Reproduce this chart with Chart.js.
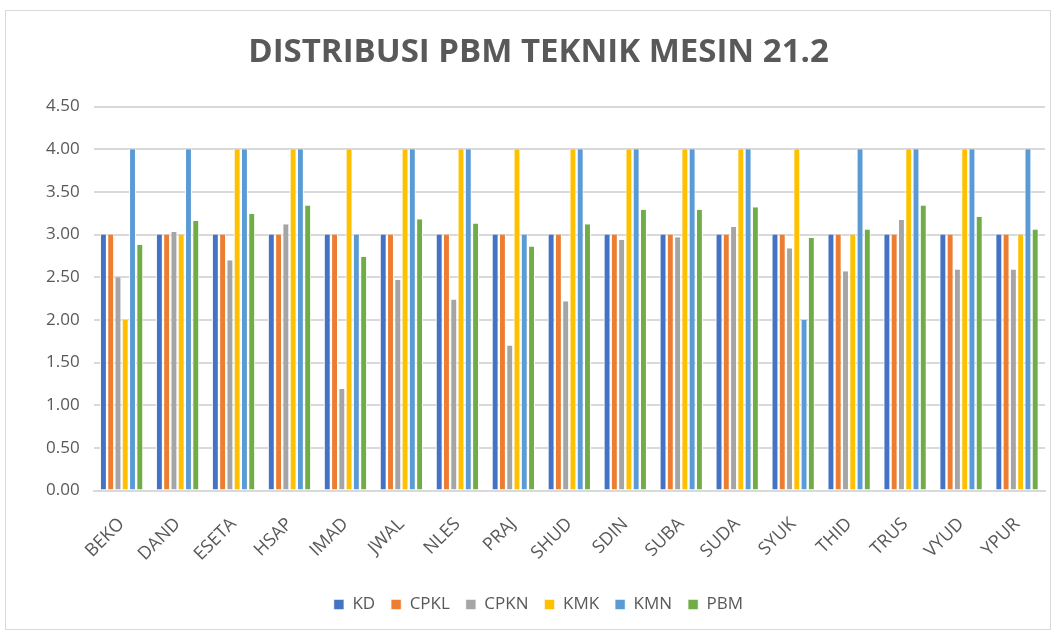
<!DOCTYPE html>
<html><head><meta charset="utf-8">
<script src="https://cdn.jsdelivr.net/npm/chart.js@4/dist/chart.umd.min.js"></script>
<style>
html,body{margin:0;padding:0;background:#fff;}
#wrap{position:absolute;left:5px;top:10px;width:1046px;height:620px;border:1px solid #d9d9d9;box-sizing:border-box;}
canvas{display:block;}
</style></head><body>
<div id="wrap"><canvas id="c" width="1044" height="618"></canvas></div>
<script>
const categories = ["BEKO","DAND","ESETA","HSAP","IMAD","JWAL","NLES","PRAJ","SHUD","SDIN","SUBA","SUDA","SYUK","THID","TRUS","VYUD","YPUR"];
const KD   = [3,3,3,3,3,3,3,3,3,3,3,3,3,3,3,3,3];
const CPKL = [3,3,3,3,3,3,3,3,3,3,3,3,3,3,3,3,3];
const CPKN = [2.5,3.03,2.7,3.12,1.19,2.47,2.24,1.7,2.22,2.94,2.97,3.09,2.84,2.57,3.17,2.59,2.59];
const KMK  = [2,3,4,4,4,4,4,4,4,4,4,4,4,3,4,4,3];
const KMN  = [4,4,4,4,3,4,4,3,4,4,4,4,2,4,4,4,4];
const PBM  = [2.88,3.16,3.24,3.34,2.74,3.18,3.13,2.86,3.12,3.29,3.29,3.32,2.96,3.06,3.34,3.21,3.06];
const seriesNames = ["KD","CPKL","CPKN","KMK","KMN","PBM"];
const colors = ["#4472c4","#ed7d31","#a5a5a5","#ffc000","#5b9bd5","#70ad47"];
const values = [KD,CPKL,CPKN,KMK,KMN,PBM];
const font = "'Open Sans',sans-serif";
new Chart(document.getElementById('c'), {
  type:'bar',
  data:{labels:categories, datasets: seriesNames.map((n,i)=>({label:n,data:values[i],backgroundColor:colors[i],borderColor:'#ffffff',borderWidth:{left:1,right:1,top:0,bottom:0},borderSkipped:false,categoryPercentage:0.78,barPercentage:0.95}))},
  options:{
    responsive:false, animation:false,
    layout:{padding:{left:26,right:5,top:6,bottom:6}},
    plugins:{
      title:{display:true,text:'DISTRIBUSI PBM TEKNIK MESIN 21.2',color:'#595959',font:{family:font,size:33,weight:'bold'},padding:{top:16,bottom:34}},
      legend:{position:'bottom',labels:{color:'#595959',font:{family:font,size:17},boxWidth:10,boxHeight:10,padding:16}},
      tooltip:{enabled:false}
    },
    scales:{
      x:{grid:{display:false},border:{color:'#d9d9d9',width:2},ticks:{color:'#595959',font:{family:font,size:18},minRotation:45,maxRotation:45,padding:15}},
      y:{min:0,max:4.5,ticks:{stepSize:0.5,color:'#595959',font:{family:font,size:17},padding:14,callback:v=>v.toFixed(2)},grid:{color:'#d9d9d9',lineWidth:2,drawTicks:false},border:{display:false}}
    }
  }
});
</script></body></html>
